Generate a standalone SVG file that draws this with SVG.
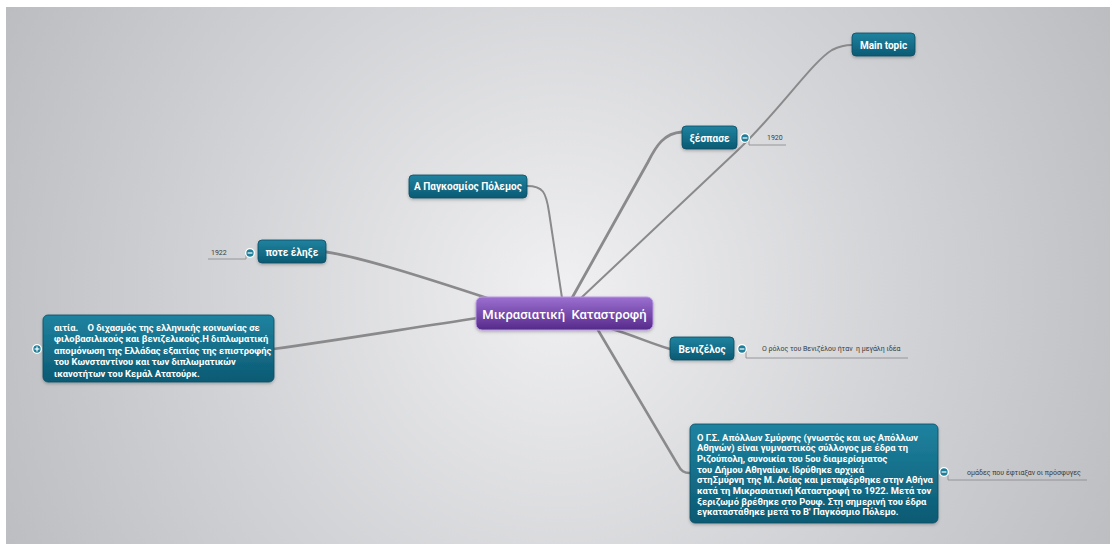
<svg xmlns="http://www.w3.org/2000/svg" width="1110" height="544" viewBox="0 0 1110 544">
  <defs>
    <radialGradient id="bg" cx="560" cy="290" r="620" gradientUnits="userSpaceOnUse">
      <stop offset="0" stop-color="#f0f0f2"/>
      <stop offset="0.55" stop-color="#d2d3d6"/>
      <stop offset="1" stop-color="#bcbdc1"/>
    </radialGradient>
    <linearGradient id="teal" x1="0" y1="0" x2="0" y2="1">
      <stop offset="0" stop-color="#1f83a0"/>
      <stop offset="1" stop-color="#0c5a73"/>
    </linearGradient>
    <linearGradient id="purple" x1="0" y1="0" x2="0" y2="1">
      <stop offset="0" stop-color="#9c70d0"/>
      <stop offset="1" stop-color="#55298a"/>
    </linearGradient>
    <filter id="shadow" x="-10%" y="-20%" width="120%" height="150%">
      <feDropShadow dx="0" dy="1.5" stdDeviation="1.5" flood-color="#000" flood-opacity="0.25"/>
    </filter>
  </defs>
  <style>
    .node { fill: url(#teal); stroke: #0b4d63; stroke-width: 0.8; filter: url(#shadow); }
    .center { fill: url(#purple); stroke: #b899e2; stroke-width: 1; filter: url(#shadow); }
    .label { font-family: Roboto, "Noto Sans", sans-serif; font-weight: bold; font-size: 10px; fill: #ffffff; }
    .body { font-family: Roboto, "Noto Sans", sans-serif; font-weight: bold; font-size: 9.4px; fill: #ffffff; white-space: pre; }
    .title { font-family: Roboto, "Noto Sans", sans-serif; font-weight: 500; font-size: 13px; fill: #ffffff; white-space: pre; }
    .note { font-family: Roboto, "Noto Sans", sans-serif; font-size: 7px; fill: #3a3a3a; white-space: pre; }
    .branch { fill: none; stroke: #8a8a8c; stroke-linecap: round; }
    .uline { fill: none; stroke: #8f8f92; stroke-width: 0.9; }
    .toggle { fill: #1f7f9a; stroke: #ffffff; stroke-width: 1.3; }
    .sign { stroke: #ffffff; stroke-width: 1.2; }
  </style>

  <!-- canvas -->
  <rect x="0" y="0" width="1110" height="544" fill="#ffffff"/>
  <rect x="6" y="7" width="1104" height="537" fill="url(#bg)"/>

  <!-- branches -->
  <g id="connectors">
    <path class="branch" stroke-width="2" d="M527,186 C543,186 546,192 549,212 L562,298"/>
    <path class="branch" stroke-width="2.8" d="M326,252 C360,257 420,276 490,299"/>
    <path class="branch" stroke-width="2.6" d="M273,349 C340,340 410,328 478,318"/>
    <path class="branch" stroke-width="2.8" d="M572,298 L648,162 C656,146 664,133 682,132"/>
    <path class="branch" stroke-width="2" d="M581,298 L738,150 C780,110 812,62 832,50 C840,46 845,45 852,45"/>
    <path class="branch" stroke-width="2.4" d="M612,329 C635,336 650,343 670,349"/>
    <path class="branch" stroke-width="2.6" d="M598,330 L678,465 C681,471 684,473 690,473"/>
    <!-- annotation underlines -->
    <path class="uline" d="M246,255 L246,259 L208,259"/>
    <path class="uline" d="M749,140 L749,145 L786,145"/>
    <path class="uline" d="M746,351 L746,358 L908,358"/>
    <path class="uline" d="M948,475 L948,480 L1087,480"/>
  </g>

  <!-- central topic -->
  <g id="n-center">
    <rect class="center" x="476" y="297" width="177" height="33" rx="6"/>
    <text class="title" x="564.5" y="318.5" text-anchor="middle">Μικρασιατική  Καταστροφή</text>
  </g>

  <g id="n-ww1">
    <rect class="node" x="409" y="175" width="118" height="23" rx="4"/>
    <text class="label" x="468" y="190" text-anchor="middle">Α Παγκοσμίος Πόλεμος</text>
  </g>

  <g id="n-ended">
    <rect class="node" x="258" y="240" width="68" height="23" rx="4"/>
    <text class="label" x="292" y="255.5" text-anchor="middle">ποτε έληξε</text>
    <circle class="toggle" cx="250" cy="253" r="4.3"/>
    <line class="sign" x1="247.6" y1="253" x2="252.4" y2="253"/>
    <text class="note" x="211" y="254.5">1922</text>
  </g>

  <g id="n-causes">
    <rect class="node" x="43" y="315" width="231" height="67" rx="5"/>
    <text class="body" x="54" y="330.5">αιτία.    Ο διχασμός της ελληνικής κοινωνίας σε</text>
    <text class="body" x="54" y="342">φιλοβασιλικούς και βενιζελικούς.Η διπλωματική</text>
    <text class="body" x="54" y="353.5">απομόνωση της Ελλάδας εξαιτίας της επιστροφής</text>
    <text class="body" x="54" y="365">του Κωνσταντίνου και των διπλωματικών</text>
    <text class="body" x="54" y="376.5">ικανοτήτων του Κεμάλ Ατατούρκ.</text>
    <circle class="toggle" cx="37" cy="349" r="4.3"/>
    <line class="sign" x1="34.6" y1="349" x2="39.4" y2="349"/>
    <line class="sign" x1="37" y1="346.6" x2="37" y2="351.4"/>
  </g>

  <g id="n-outbreak">
    <rect class="node" x="682" y="126" width="55" height="23" rx="4"/>
    <text class="label" x="709.5" y="141.5" text-anchor="middle">ξέσπασε</text>
    <circle class="toggle" cx="745" cy="138" r="4.3"/>
    <line class="sign" x1="742.6" y1="138" x2="747.4" y2="138"/>
    <text class="note" x="767" y="140">1920</text>
  </g>

  <g id="n-main">
    <rect class="node" x="852" y="33" width="63" height="23" rx="4"/>
    <text class="label" x="883.5" y="48.5" text-anchor="middle">Main topic</text>
  </g>

  <g id="n-venizelos">
    <rect class="node" x="670" y="337" width="64" height="23" rx="4"/>
    <text class="label" x="702" y="352.5" text-anchor="middle">Βενιζέλος</text>
    <circle class="toggle" cx="742" cy="349" r="4.3"/>
    <line class="sign" x1="739.6" y1="349" x2="744.4" y2="349"/>
    <text class="note" x="762" y="351">Ο ρόλος του Βενιζέλου ήταν  η μεγάλη ιδέα</text>
  </g>

  <g id="n-apollon">
    <rect class="node" x="690" y="424" width="248" height="99" rx="5"/>
    <text class="body" x="697" y="440.5">Ο Γ.Σ. Απόλλων Σμύρνης (γνωστός και ως Απόλλων</text>
    <text class="body" x="697" y="451.2">Αθηνών) είναι γυμναστικός σύλλογος με έδρα τη</text>
    <text class="body" x="697" y="461.9">Ριζούπολη, συνοικία του 5ου διαμερίσματος</text>
    <text class="body" x="697" y="472.6">του Δήμου Αθηναίων. Ιδρύθηκε αρχικά</text>
    <text class="body" x="697" y="483.3">στηΣμύρνη της Μ. Ασίας και μεταφέρθηκε στην Αθήνα</text>
    <text class="body" x="697" y="494">κατά τη Μικρασιατική Καταστροφή το 1922. Μετά τον</text>
    <text class="body" x="697" y="504.7">ξεριζωμό βρέθηκε στο Ρουφ. Στη σημερινή του έδρα</text>
    <text class="body" x="697" y="515.4">εγκαταστάθηκε μετά το Β' Παγκόσμιο Πόλεμο.</text>
    <circle class="toggle" cx="944" cy="472" r="4.3"/>
    <line class="sign" x1="941.6" y1="472" x2="946.4" y2="472"/>
    <text class="note" x="967" y="474.5">ομάδες που έφτιαξαν οι πρόσφυγες</text>
  </g>
</svg>
